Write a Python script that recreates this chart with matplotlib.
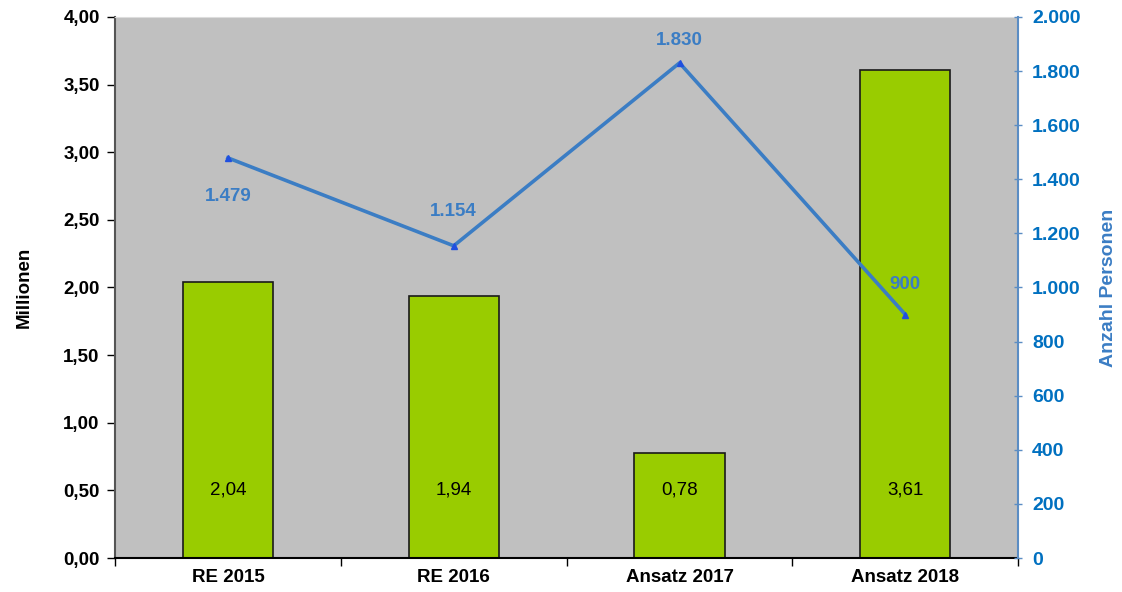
import matplotlib
matplotlib.use("Agg")
import matplotlib.pyplot as plt
from matplotlib.ticker import FuncFormatter, MultipleLocator, FixedLocator

categories = ["RE 2015", "RE 2016", "Ansatz 2017", "Ansatz 2018"]
millionen = [2.04, 1.94, 0.78, 3.61]
personen = [1479, 1154, 1830, 900]

plt.rcParams['font.family'] = ['Liberation Sans', 'DejaVu Sans']

fig = plt.figure(figsize=(11.22, 5.92), dpi=100)
ax = fig.add_axes([0.1025, 0.0574, 0.805, 0.914])
ax.set_facecolor('#C0C0C0')

x = list(range(len(categories)))
ax.bar(x, millionen, width=0.4, color='#99CC00', edgecolor='#1a1a1a', linewidth=1.2, zorder=2)
for xi, v in zip(x, millionen):
    ax.text(xi, 0.5, f"{v:.2f}".replace('.', ','), ha='center', va='center', fontsize=13.5, color='black', zorder=5)

ax.set_xlim(-0.5, len(categories) - 0.5)
ax.set_ylim(0, 4)
ax.yaxis.set_major_locator(MultipleLocator(0.5))
ax.yaxis.set_major_formatter(FuncFormatter(lambda v, p: f"{v:.2f}".replace('.', ',')))
ax.set_xticks(x)
ax.set_xticklabels(categories, fontsize=13.5, fontweight='bold')
ax.xaxis.set_minor_locator(FixedLocator([i - 0.5 for i in range(len(categories) + 1)]))
ax.tick_params(axis='x', which='major', length=0, pad=8)
ax.tick_params(axis='x', which='minor', length=6, width=1, direction='out')
ax.tick_params(axis='y', length=6, width=1, direction='out', labelsize=13.5, pad=5)
for lbl in ax.get_yticklabels():
    lbl.set_fontweight('bold')
ax.set_ylabel("Millionen", fontsize=13.5, fontweight='bold', labelpad=22)
ax.spines['left'].set_color('#555555')
ax.spines['left'].set_linewidth(1.5)
ax.spines['bottom'].set_color('black')
ax.spines['bottom'].set_linewidth(1.5)
ax.spines['top'].set_color('#DDDDDD')
ax.spines['right'].set_visible(False)

ax2 = ax.twinx()
ax2.plot(x, personen, color='#3B7DC4', linewidth=2.6, marker='^', markersize=5,
         markerfacecolor='#1F4FE0', markeredgecolor='#1F4FE0', zorder=4)
ax2.set_ylim(0, 2000)
ax2.yaxis.set_major_locator(MultipleLocator(200))
ax2.yaxis.set_major_formatter(FuncFormatter(lambda v, p: f"{int(v):,}".replace(',', '.')))
ax2.tick_params(axis='y', length=6, width=1, direction='inout', colors='#0070C0', labelsize=14, pad=7)
ax2.tick_params(axis='y', color='#5B8DC4')
for lbl in ax2.get_yticklabels():
    lbl.set_fontweight('bold')
ax2.set_ylabel("Anzahl Personen", fontsize=14, fontweight='bold', color='#3B7DC4', labelpad=14)
ax2.spines['right'].set_color('#5B8DC4')
ax2.spines['right'].set_linewidth(1.5)
for s in ['left', 'top', 'bottom']:
    ax2.spines[s].set_visible(False)

offsets = [-28, 24.5, 16.5, 21.5]
for xi, v, off in zip(x, personen, offsets):
    ax2.annotate(f"{v:,}".replace(',', '.'), (xi, v), xytext=(0, off), textcoords='offset points',
                 ha='center', va='center', fontsize=13.5, color='#3B7DC4', fontweight='bold')

fig.savefig("out.png", dpi=100)
